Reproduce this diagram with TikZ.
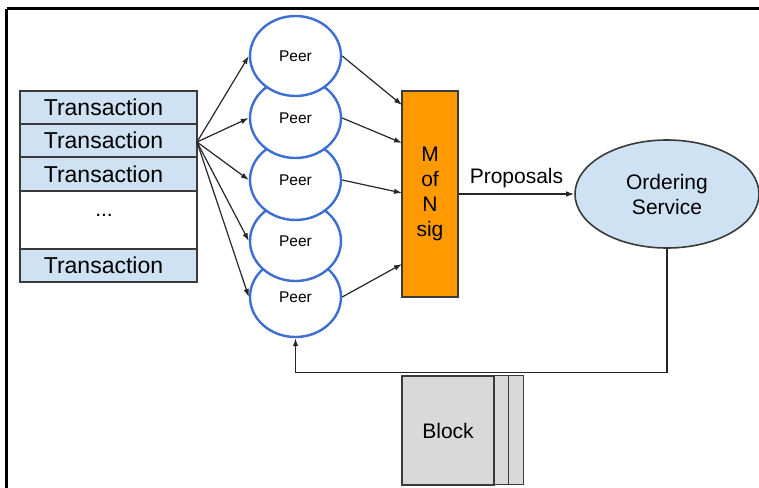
\documentclass[tikz,border=0pt]{standalone}
\usepackage{fontspec}
\setmainfont{Liberation Sans}
\usetikzlibrary{shapes.geometric,arrows.meta}

\definecolor{txblue}{HTML}{CFE2F3}
\definecolor{peerblue}{HTML}{3C6FD1}
\definecolor{sigorange}{HTML}{FF9900}
\definecolor{blockgray}{HTML}{D9D9D9}
\definecolor{edge}{HTML}{3A3A3A}

% row label sits a little left of and below the row centre
\newcommand\rowtext[1]{\raisebox{-2pt}{#1}\hspace*{10pt}}

\tikzset{
  frameline/.style={line width=2.6pt, black},
  txrow/.style={draw=edge, line width=1.4pt, fill=txblue, minimum width=177pt,
    minimum height=33pt, inner sep=0pt, font=\fontsize{23}{26}\selectfont},
  txgap/.style={txrow, fill=white, minimum height=58pt},
  peer/.style={ellipse, draw=peerblue, line width=2.4pt, fill=white,
    minimum width=91pt, minimum height=80pt, inner sep=0pt,
    font=\fontsize{15.5}{18}\selectfont},
  sigbox/.style={draw=edge, line width=1.4pt, fill=sigorange, minimum width=56pt,
    minimum height=206pt, inner sep=0pt, align=center,
    font=\fontsize{21}{25}\selectfont},
  ordering/.style={ellipse, draw=edge, line width=1.6pt, fill=txblue,
    minimum width=184pt, minimum height=108pt, inner sep=0pt, align=center,
    font=\fontsize{21}{25}\selectfont},
  blockbox/.style={draw=edge, line width=1.4pt, fill=blockgray, minimum width=92pt,
    minimum height=109pt, inner sep=0pt, font=\fontsize{21}{25}\selectfont},
  arr/.style={draw=black!85, line width=1.2pt, -{Latex[length=8pt,width=5.5pt]}},
  plain/.style={draw=edge, line width=1.4pt},
}

\begin{document}
\begin{tikzpicture}[x=1pt, y=-1pt]
  \useasboundingbox (0,0) rectangle (759,487);

  % outer frame (top and left edges)
  \draw[frameline] (6.5,8.7) -- (790,8.7);
  \draw[frameline] (6.5,8.7) -- (6.5,520);

  % transaction list
  \node[txrow] (t1) at (108.5,107.5) {\rowtext{Transaction}};
  \node[txrow] (t2) at (108.5,140.5) {\rowtext{Transaction}};
  \node[txrow] (t3) at (108.5,174) {\rowtext{Transaction}};
  \node[txgap] (tdots) at (108.5,220) {};
  \node[font=\fontsize{21}{25}\selectfont] (dots) at (104,215) {...};
  \node[txrow] (t5) at (108.5,265.5) {\rowtext{Transaction}};
  \coordinate (src) at (197,142);

  % peers, lower ones first so upper ones overlap them
  \node[peer] (p5) at (295.5,297) {\raisebox{-1.5pt}{Peer}};
  \node[peer] (p4) at (295.5,241) {\raisebox{-1.5pt}{Peer}};
  \node[peer] (p3) at (295.5,180) {\raisebox{-1.5pt}{Peer}};
  \node[peer] (p2) at (295.5,118) {\raisebox{-1.5pt}{Peer}};
  \node[peer] (p1) at (295.5,56) {\raisebox{-1.5pt}{Peer}};

  % signature collector
  \node[sigbox] (ms) at (430,194) {M\\of\\N\\sig};
  \coordinate (m1) at (402,105);
  \coordinate (m2) at (402,143);
  \coordinate (m3) at (402,193);
  \coordinate (m5) at (402,264);

  % ordering service
  \node[ordering] (os) at (667,194) {\raisebox{-2pt}{Ordering}\\\raisebox{-2pt}{Service}};

  % block with trailing pages
  \node[blockbox] (blk) at (448,430.5) {Block};
  \draw[plain, fill=blockgray] (blk.north east) rectangle ++(14,109);
  \draw[plain, fill=blockgray] ([xshift=14pt]blk.north east) rectangle ++(15,109);

  % transactions fan out to the peers
  \foreach \p in {p1,p2,p3,p4,p5}
    \draw[arr] (src) -- (\p.west);

  % endorsements into the signature box
  \draw[arr] (p1.east) -- (m1);
  \draw[arr] (p2.east) -- (m2);
  \draw[arr] (p3.east) -- (m3);
  \draw[arr] (p5.east) -- (m5);

  % proposals to ordering
  \draw[arr] (ms.east) -- node[above=2pt, font=\fontsize{21}{25}\selectfont] (prop) {Proposals} (os.west);

  % blocks delivered back to the peers
  \draw[arr] (os.south) -- ++(0,124) -| (p5.south);
\end{tikzpicture}
\end{document}
